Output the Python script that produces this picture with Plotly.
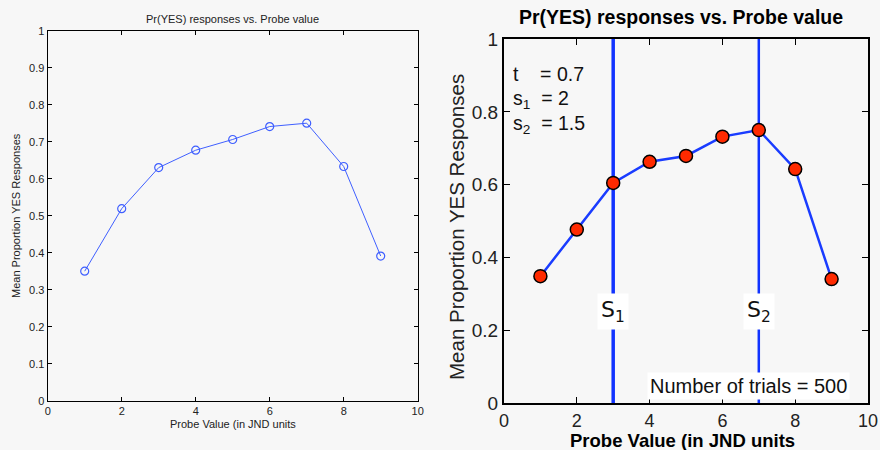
import plotly.graph_objects as go

probe = [1, 2, 3, 4, 5, 6, 7, 8, 9]
left_vals = [0.350, 0.519, 0.630, 0.677, 0.706, 0.741, 0.750, 0.633, 0.391]
right_vals = [0.349, 0.477, 0.605, 0.663, 0.679, 0.732, 0.750, 0.643, 0.341]
s_positions = [3, 7]
s_labels = ["S<sub>1</sub>", "S<sub>2</sub>"]
left_yticks = [0, 0.1, 0.2, 0.3, 0.4, 0.5, 0.6, 0.7, 0.8, 0.9, 1]
right_yticks = [0, 0.2, 0.4, 0.6, 0.8, 1]
xticks = [0, 2, 4, 6, 8, 10]
params = ["t\u00a0\u00a0\u00a0\u00a0= 0.7", "s<sub>1</sub>\u00a0\u00a0= 2", "s<sub>2</sub>\u00a0\u00a0= 1.5"]

W, H = 880, 450
BG = "#f7f7f7"
FONT = "Liberation Sans, Arial, Helvetica, sans-serif"

def px(x):
    return x / W

def py(y):
    return 1 - y / H

fig = go.Figure()

fig.add_trace(go.Scatter(
    x=probe, y=left_vals, mode="lines+markers",
    line=dict(color="#3f5fff", width=1),
    marker=dict(symbol="circle-open", size=8, color="#3f5fff", line=dict(width=1.2)),
    xaxis="x", yaxis="y", showlegend=False))

for sx, w in zip(s_positions, [3.5, 2.5]):
    fig.add_trace(go.Scatter(
        x=[sx, sx], y=[0, 1], mode="lines",
        line=dict(color="#1133ff", width=w),
        xaxis="x2", yaxis="y2", showlegend=False, hoverinfo="skip"))

fig.add_trace(go.Scatter(
    x=probe, y=right_vals, mode="lines+markers",
    line=dict(color="#1a3cff", width=2.5),
    marker=dict(symbol="circle", size=13, color="#ff2a00", line=dict(color="black", width=1.5)),
    xaxis="x2", yaxis="y2", showlegend=False))

axis_common = dict(showgrid=False, zeroline=False, ticks="inside", mirror="ticks",
                   showline=True, linecolor="black", automargin=False)

fig.update_layout(
    width=W, height=H,
    paper_bgcolor=BG, plot_bgcolor=BG,
    margin=dict(l=0, r=0, t=0, b=0),
    font=dict(family=FONT, color="#222222"),
    xaxis=dict(domain=[px(47.7), px(417.7)], range=[0, 10], tickvals=xticks,
               anchor="y", ticklen=4, tickcolor="black", linewidth=1.3,
               tickfont=dict(size=11), **axis_common),
    yaxis=dict(domain=[py(400.7), py(30.7)], range=[0, 1], tickvals=left_yticks,
               ticktext=["0", "0.1", "0.2", "0.3", "0.4", "0.5", "0.6", "0.7", "0.8", "0.9", "1"],
               anchor="x", ticklen=4, tickcolor="black", linewidth=1.3,
               tickfont=dict(size=11), **axis_common),
    xaxis2=dict(domain=[px(504), px(868)], range=[0, 10], tickvals=xticks,
                anchor="y2", ticklen=6, tickcolor="black", linewidth=2,
                tickfont=dict(size=18), **axis_common),
    yaxis2=dict(domain=[py(403.3), py(39)], range=[0, 1], tickvals=right_yticks,
                ticktext=["0", "0.2", "0.4", "0.6", "0.8", "1"],
                anchor="x2", ticklen=6, tickcolor="black", linewidth=2,
                tickfont=dict(size=19), **axis_common),
)

ann = []
# Left titles
ann.append(dict(text="Pr(YES) responses vs. Probe value", x=px(232.5), y=py(19), xref="paper", yref="paper",
                showarrow=False, font=dict(size=11), xanchor="center", yanchor="middle"))
ann.append(dict(text="Probe Value (in JND units", x=px(233), y=py(424), xref="paper", yref="paper",
                showarrow=False, font=dict(size=11), xanchor="center", yanchor="middle"))
ann.append(dict(text="Mean Proportion YES Responses", x=px(16), y=py(216), xref="paper", yref="paper",
                showarrow=False, font=dict(size=11), textangle=-90, xanchor="center", yanchor="middle"))
# Right titles
ann.append(dict(text="<b>Pr(YES) responses vs. Probe value</b>", x=px(681), y=py(17), xref="paper", yref="paper",
                showarrow=False, font=dict(size=19.5, color="black"), xanchor="center", yanchor="middle"))
ann.append(dict(text="<b>Probe Value (in JND units</b>", x=px(682), y=py(440), xref="paper", yref="paper",
                showarrow=False, font=dict(size=18.5, color="black"), xanchor="center", yanchor="middle"))
ann.append(dict(text="Mean Proportion YES Responses", x=px(456), y=py(227), xref="paper", yref="paper",
                showarrow=False, font=dict(size=20.5), textangle=-90, xanchor="center", yanchor="middle"))
# Parameters text
for i, t in enumerate(params):
    ann.append(dict(text=t, x=0.2, y=0.905 - i * 0.07, xref="x2", yref="y2",
                    showarrow=False, font=dict(size=19.5, color="#111111"), xanchor="left", yanchor="middle"))
# S labels
for sx, lab in zip(s_positions, s_labels):
    ann.append(dict(text=lab, x=sx, y=0.252, xref="x2", yref="y2", showarrow=False,
                    font=dict(size=22, family="DejaVu Sans, sans-serif", color="#111111"),
                    bgcolor="white", borderpad=3, xanchor="center", yanchor="middle"))
ann.append(dict(text="Number of trials = 500", x=9.5, y=0.047, xref="x2", yref="y2", showarrow=False,
                font=dict(size=20, color="#111111"), bgcolor="white", borderpad=2,
                xanchor="right", yanchor="middle"))

fig.update_layout(annotations=ann)
fig.write_html("out.html", post_script="document.body.style.margin='0';",
               config={"displayModeBar": False})
